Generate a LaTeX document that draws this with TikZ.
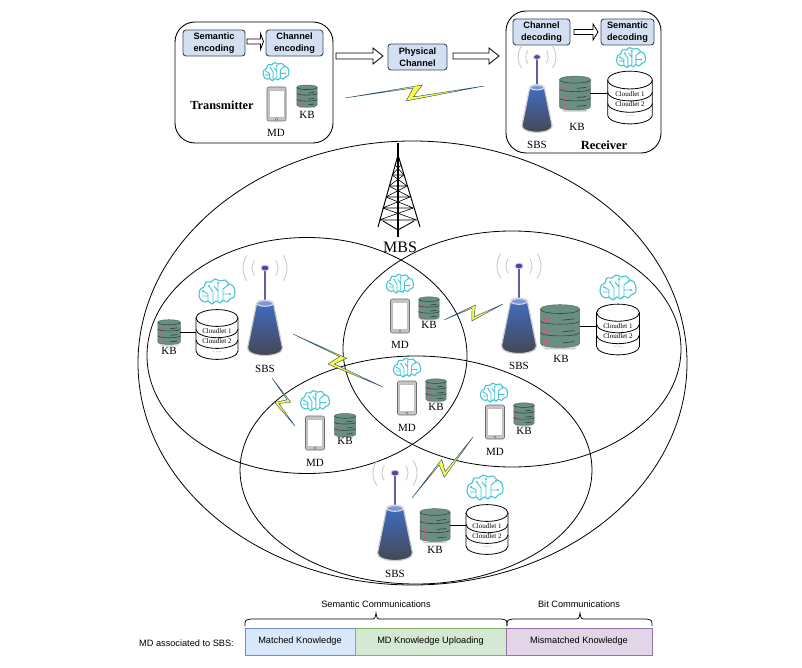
\documentclass[tikz,border=0pt]{standalone}
\usepackage{fontspec}
\setmainfont{Liberation Serif}
\newfontfamily\arialf{Liberation Sans}
\usetikzlibrary{calc}
\definecolor{bluebox}{HTML}{D3E0F2}
\definecolor{boxline}{HTML}{3F4A5A}
\definecolor{braincol}{HTML}{45C4D6}
\definecolor{srvbody}{HTML}{6A8F82}
\definecolor{srvbar}{HTML}{2F4A40}
\definecolor{srvdot}{HTML}{E0508A}
\definecolor{conetop}{HTML}{3F6FC8}
\definecolor{conebot}{HTML}{45464F}
\definecolor{boltline}{HTML}{2B4F81}
\definecolor{boltfill}{HTML}{FFFF40}
\definecolor{cellAf}{HTML}{DAE8FC}
\definecolor{cellAd}{HTML}{6C8EBF}
\definecolor{cellBf}{HTML}{D5E8D4}
\definecolor{cellBd}{HTML}{82B366}
\definecolor{cellCf}{HTML}{E1D5E7}
\definecolor{cellCd}{HTML}{9673A6}
\tikzset{
  serif lab/.style={font=\fontsize{11}{12}\selectfont, inner sep=0pt},
  proc/.style={draw=boxline, fill=bluebox, line width=.9pt, rounded corners=3pt, inner sep=0pt, align=center,
    font=\arialf\bfseries\fontsize{9.2}{12}\selectfont},
  bigbox/.style={draw=black, line width=.9pt, rounded corners=20pt, fill=white},
  cell/.style={line width=.9pt, minimum height=27pt, inner sep=0pt, font=\arialf\fontsize{9.2}{11}\selectfont},
  plain/.style={inner sep=0pt, font=\arialf\fontsize{9.2}{11}\selectfont},
  zone/.style={draw=black, line width=.8pt},
  blockar/.style={draw=black, fill=white, line width=.8pt},
  link/.style={draw=black, line width=.9pt},
  boltst/.style={draw=boltline, fill=boltfill, line width=.45pt, line join=miter},
  brainpic/.pic={
    \draw[braincol, line width=1.1pt, fill=white] plot[smooth cycle, tension=.6] coordinates {
      (-18,3) (-16.5,-3) (-13,-5) (-11,-10) (-6,-10) (-2,-13) (3,-11) (8,-12) (12,-8) (16,-6) (18,0) (17,5)
      (13,7) (10,10) (6,8) (3,11) (-1,9) (-5,12) (-9,9) (-12,10) (-16,8)};
    \draw[braincol, line width=.9pt] (-9,9) -- (-9,2) -- (-14,-1) (-4,11) -- (-4,0) -- (-8,-6)
      (1,9) -- (1,-9) (6,7) -- (6,-3) -- (11,-7) (1,-1) -- (-3,-6) (6,2) -- (13,2) (-9,4) -- (-15,4);
    \fill[braincol] (-14,-1) circle (1.2) (-8,-6) circle (1.2) (1,-9) circle (1.2) (11,-7) circle (1.2) (13,2) circle (1.2);
  },
  phonepic/.pic={
    \draw[draw=gray!85!black, fill=gray!45, line width=.6pt, rounded corners=2pt] (-9.5,-17) rectangle (9.5,17);
    \fill[white, draw=gray!50, line width=.3pt] (-7.5,-13.5) rectangle (7.5,13.5);
    \draw[gray!70!black, line width=.4pt, fill=white] (0,15.2) circle (1.1);
  },
  serverpic/.pic={
    \fill[gray!40] (-13,16.5) -- (13,16.5) -- (11,18) -- (-11,18) -- cycle;
    \draw[fill=srvbody, draw=srvbar!80, line width=.5pt] (-15,-13) -- (-15,13.5)
      .. controls (-15,17.5) and (15,17.5) .. (15,13.5) -- (15,-13)
      .. controls (15,-17.5) and (-15,-17.5) .. (-15,-13) -- cycle;
    \draw[srvbar, line width=.6pt] (-15,-13) .. controls (-15,-8.5) and (15,-8.5) .. (15,-13)
      (-15,-4) .. controls (-15,-0.5) and (15,-0.5) .. (15,-4)
      (-15,5) .. controls (-15,8.5) and (15,8.5) .. (15,5);
    \draw[srvbar, line width=.7pt] (2,-4.5) -- (11,-5.5) (2,4.5) -- (11,3.5) (2,13) -- (11,12);
    \fill[srvdot] (-10.5,-4.5) circle (1.7) (-10.5,4.5) circle (1.7) (-10.5,12.5) circle (1.7);
    \coordinate (-r) at (15,0);
  },
  cloudpic/.pic={
    \draw[fill=white, line width=.8pt] (-21,-16) -- (-21,17) arc[start angle=180, end angle=0, x radius=21, y radius=8.4]
      -- (21,-16) arc[start angle=0, end angle=-180, x radius=21, y radius=8.4] -- cycle;
    \draw[line width=.8pt] (-21,-16) arc[start angle=180, end angle=0, x radius=21, y radius=8.4]
      (-21,-4.7) arc[start angle=180, end angle=0, x radius=21, y radius=8.4]
      (-21,6) arc[start angle=180, end angle=0, x radius=21, y radius=8.4];
    \node (-a) [inner sep=0pt, font=\fontsize{7}{8}\selectfont] at (0,-3) {Cloudlet 1};
    \node (-b) [inner sep=0pt, font=\fontsize{7}{8}\selectfont] at (0,7) {Cloudlet 2};
    \node (-c) [inner sep=0pt, text=gray, font=\fontsize{6}{7}\selectfont] at (0,18) {......};
    \coordinate (-l) at (-21,0);
  },
  sbspic/.pic={
    \foreach \r in {13,22}{
      \draw[gray!45, line width=.8pt] ({\r*cos(35)},{-\r*sin(35)}) arc[start angle=-35, end angle=35, radius=\r];
      \draw[gray!45, line width=.8pt] ({-\r*cos(35)},{-\r*sin(35)}) arc[start angle=215, end angle=145, radius=\r];
    }
    \draw[color=blue!25!gray, line width=1.2pt] (0,0) -- (0,36);
    \draw[gray!40, fill=blue!45!gray, line width=.8pt] (0,0) ellipse[x radius=4, y radius=2.8];
    \path[top color=conetop, bottom color=conebot, draw=gray!40, line width=1.2pt]
      (-8.5,36) -- (-17.5,80) .. controls (-17.5,90) and (17.5,90) .. (17.5,80) -- (8.5,36)
      .. controls (8.5,31) and (-8.5,31) .. (-8.5,36) -- cycle;
    \draw[gray!25, fill=conetop!70!white, line width=1pt] (0,35.5) ellipse[x radius=8, y radius=2.8];
  }
}
\newcommand{\blockarr}[4]{%
  \draw[blockar] ($(#1)+(0,-#4)$) -- ($(#2)+(-#3,-#4)$) -- ($(#2)+(-#3,-8)$) -- (#2)
    -- ($(#2)+(-#3,8)$) -- ($(#2)+(-#3,#4)$) -- ($(#1)+(0,#4)$) -- cycle;}
\newcommand{\zbolt}[2]{%
  \path[boltst] (#1) -- ($(#1)!.56!(#2)!6.3pt!90:(#2)$) -- ($(#1)!.488!(#2)!4.85pt!-90:(#2)$) -- (#2)
    -- ($(#1)!.435!(#2)!8.2pt!-90:(#2)$) -- ($(#1)!.493!(#2)!4.1pt!90:(#2)$) -- cycle;}
\begin{document}
\begin{tikzpicture}[x=1pt,y=-1pt]
\fill[white] (0,0) rectangle (802,668);
\useasboundingbox (0,0) rectangle (802,668);

% network zones
\draw[zone] (412.5,363) ellipse[x radius=274.5, y radius=222];
\draw[zone] (307,355.5) ellipse[x radius=160, y radius=118];
\draw[zone] (512,349) ellipse[x radius=169, y radius=118];
\draw[zone] (416,470) ellipse[x radius=176, y radius=114];

% top boxes
\node (txbox) [bigbox, minimum width=158pt, minimum height=121pt] at (254,82.5) {};
\node (rxbox) [bigbox, minimum width=155pt, minimum height=142pt] at (583.5,82) {};
\node (senc) [proc, minimum width=62pt, minimum height=26pt] at (214,43) {Semantic\\encoding};
\node (cenc) [proc, minimum width=57pt, minimum height=26pt] at (294.5,43) {Channel\\encoding};
\node (phy)  [proc, minimum width=59pt, minimum height=26pt] at (417.5,57) {Physical\\Channel};
\node (cdec) [proc, minimum width=57pt, minimum height=26pt] at (541.5,32) {Channel\\decoding};
\node (sdec) [proc, minimum width=53pt, minimum height=26pt] at (627.5,32) {Semantic\\decoding};
\coordinate (a1s) at (247,41.5); \coordinate (a1e) at (263.5,41.5);
\coordinate (a2s) at (336,56);   \coordinate (a2e) at (383,56);
\coordinate (a3s) at (453,56);   \coordinate (a3e) at (499,56);
\coordinate (a4s) at (574,32);   \coordinate (a4e) at (598,32);
\blockarr{a1s}{a1e}{3}{2.5}
\blockarr{a2s}{a2e}{10}{3}
\blockarr{a3s}{a3e}{10}{3}
\blockarr{a4s}{a4e}{5}{2.5}

% bolts
\coordinate (b1a) at (345,98);  \coordinate (b1b) at (484,86);
\coordinate (b2a) at (293,334); \coordinate (b2b) at (383,387);
\coordinate (b3a) at (272,378); \coordinate (b3b) at (295,426);
\coordinate (b4a) at (444,320); \coordinate (b4b) at (503,304);
\coordinate (b5a) at (412,498); \coordinate (b5b) at (473,437);
\zbolt{b1a}{b1b}
\zbolt{b2a}{b2b}
\zbolt{b3a}{b3b}
\zbolt{b4a}{b4b}
\zbolt{b5a}{b5b}

% transmitter contents
\pic[scale=.72] at (276,72) {brainpic};
\pic at (276.5,104) {phonepic};
\pic[scale=.67] at (307,96) {serverpic};
\node (ttx) [inner sep=0pt, font=\bfseries\fontsize{12.3}{13}\selectfont] at (222,105) {Transmitter};
\node (tkb) [serif lab] at (307,115) {KB};
\node (tmd) [serif lab] at (276,133) {MD};

% receiver contents
\pic[scale=.86] at (537,57) {sbspic};
\pic (rkb) [scale=1.03] at (575,93) {serverpic};
\pic (rcl) [scale=1.06] at (630,97) {cloudpic};
\draw[link] (rkb-r) -- (rkb-r -| rcl-l);
\pic[scale=.8] at (631,58) {brainpic};
\node (rsbs) [serif lab] at (537,145) {SBS};
\node (rkbl) [serif lab] at (577,127) {KB};
\node (rrx) [inner sep=0pt, font=\bfseries\fontsize{12.5}{13}\selectfont] at (604,145) {Receiver};

% MBS tower
\draw[black, line width=1pt] (398,155) -- (378,227) (398,155) -- (420,227);
\foreach \ya/\yb in {165/175,175/186,186/197,197/208,208/220}{
  \pgfmathsetmacro{\wa}{(\ya-155)*.29}
  \pgfmathsetmacro{\wb}{(\yb-155)*.29}
  \draw[black, line width=.6pt] ({398-\wa},\ya) -- ({398+\wb},\yb) ({398+\wa},\ya) -- ({398-\wb},\yb)
    ({398-\wb},\yb) -- ({398+\wb},\yb);
}
\draw[black, line width=.9pt] (383,221) -- (398,230) -- (414,221);
\draw[black, line width=1.8pt] (398,143) -- (398,237);
\node (mbs) [inner sep=0pt, font=\fontsize{16}{17}\selectfont] at (400,247) {MBS};

% left cluster
\pic[scale=1] at (217,292) {brainpic};
\pic (lcl) at (217,334) {cloudpic};
\pic (lkb) [scale=.75] at (169,332) {serverpic};
\draw[link] (lkb-r) -- (lkb-r -| lcl-l);
\node (lkbl) [serif lab] at (169,351) {KB};
\pic at (265,268) {sbspic};
\node (lsbs) [serif lab] at (265,369) {SBS};

% centre upper MD
\pic[scale=.75] at (400,284) {brainpic};
\pic at (400,316) {phonepic};
\pic[scale=.68] at (429,308) {serverpic};
\node (c1kb) [serif lab] at (429,325) {KB};
\node (c1md) [serif lab] at (400,345) {MD};

% centre lower MD
\pic[scale=.75] at (407,368) {brainpic};
\pic at (407,398) {phonepic};
\pic[scale=.68] at (436,390) {serverpic};
\node (c2kb) [serif lab] at (436,407) {KB};
\node (c2md) [serif lab] at (407,428) {MD};

% bottom-left MD
\pic[scale=.8] at (315,401) {brainpic};
\pic at (315,433) {phonepic};
\pic[scale=.7] at (345,425) {serverpic};
\node (blkb) [serif lab] at (345,441) {KB};
\node (blmd) [serif lab] at (315,463) {MD};

% bottom-right MD
\pic[scale=.75] at (494,393) {brainpic};
\pic at (495,422) {phonepic};
\pic[scale=.68] at (524,414) {serverpic};
\node (brkb) [serif lab] at (524,431) {KB};
\node (brmd) [serif lab] at (495,452) {MD};

% right cluster
\pic at (519,266) {sbspic};
\node (rsb2) [serif lab] at (519,366) {SBS};
\pic (r2kb) [scale=1.3] at (560,326) {serverpic};
\pic (r2cl) [scale=1.02] at (618,329) {cloudpic};
\draw[link] (r2kb-r) -- (r2kb-r -| r2cl-l);
\node (r2kbl) [serif lab] at (561,359) {KB};
\pic[scale=1] at (618,288) {brainpic};

% bottom cluster
\pic at (395,473) {sbspic};
\node (bsbs) [serif lab] at (395,574) {SBS};
\pic (bkb) [scale=1] at (435,525) {serverpic};
\pic (bcl) at (487,529) {cloudpic};
\draw[link] (bkb-r) -- (bkb-r -| bcl-l);
\node (bkbl) [serif lab] at (435,550) {KB};
\pic[scale=1] at (485,488) {brainpic};

% legend
\node (lgl) [plain, anchor=east] at (234,643) {MD associated to SBS:};
\node (m1) [cell, draw=cellAd, fill=cellAf, minimum width=110pt] at (300,641.5) {Matched Knowledge};
\node (m2) [cell, draw=cellBd, fill=cellBf, minimum width=151pt] at (430.5,641.5) {MD Knowledge Uploading};
\node (m3) [cell, draw=cellCd, fill=cellCf, minimum width=146pt] at (579,641.5) {Mismatched Knowledge};
\draw[link, line width=.7pt] (245,626) .. controls (245,620) .. (251,619) -- (370,619) .. controls (375,619) .. (376,613)
  .. controls (377,619) .. (382,619) -- (501,619) .. controls (507,620) .. (507,626);
\draw[link, line width=.7pt] (507,626) .. controls (507,620) .. (513,619) -- (574,619) .. controls (579,619) .. (580,613)
  .. controls (581,619) .. (586,619) -- (646,619) .. controls (652,620) .. (652,626);
\node (sc) [plain] at (376,604) {Semantic Communications};
\node (bc) [plain] at (579,604) {Bit Communications};
\end{tikzpicture}
\end{document}
